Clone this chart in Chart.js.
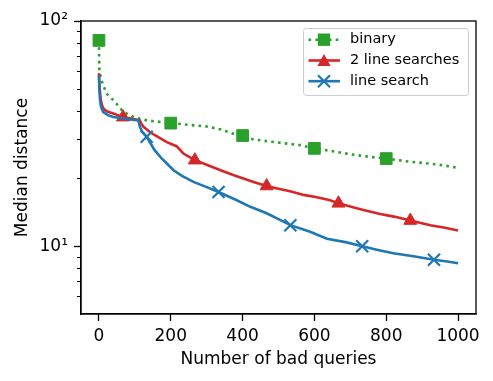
<!DOCTYPE html>
<html><head><meta charset="utf-8">
<script src="https://cdn.jsdelivr.net/npm/chart.js@4/dist/chart.umd.min.js"></script>
<style>html,body{margin:0;padding:0;background:#fff}#wrap{width:493px;height:381px}</style>
</head><body><div id="wrap"><canvas id="c" width="493" height="381"></canvas></div>
<script>
const seriesNames = ['binary', '2 line searches', 'line search'];

const binaryX = [0, 1, 7, 21, 45, 68, 100, 133, 200, 250, 300, 340, 374, 400, 430, 495, 560, 600, 650, 700, 756, 800, 867, 941, 1000];
const binaryY = [82, 60, 54.5, 47.6, 43.7, 39.4, 37.3, 36.2, 35.2, 34.6, 34.0, 33.0, 31.6, 31.0, 29.8, 28.9, 28.1, 27.2, 26.4, 25.6, 24.9, 24.5, 23.7, 23.1, 22.3];
const binaryMarkX = [0, 200, 400, 600, 800];

const redX = [0, 2, 5, 8, 12, 17, 25, 40, 67, 86, 100, 114, 118, 124, 140, 156, 189, 216, 235, 267, 300, 337, 370, 402, 435, 467, 500, 535, 570, 607, 644, 667, 700, 728, 783, 825, 867, 923, 960, 1000];
const redY = [58.7, 50, 45, 42.5, 41, 40.2, 39.5, 38.8, 37.4, 37.0, 36.6, 36.2, 35.0, 33.9, 32.3, 31.1, 29.0, 27.8, 25.8, 24.1, 23.0, 21.8, 20.8, 20.0, 19.2, 18.5, 18.0, 17.5, 16.9, 16.5, 16.0, 15.5, 15.0, 14.6, 13.9, 13.5, 13.0, 12.4, 12.1, 11.75];
const redMarkX = [67, 267, 467, 667, 867];

const blueX = [0, 1, 3, 6, 12, 25, 40, 86, 110, 114, 120, 133, 155, 172, 189, 207, 230, 263, 300, 333, 384, 420, 467, 500, 533, 588, 635, 690, 733, 780, 820, 880, 933, 970, 1000];
const blueY = [57.2, 50, 44.5, 41.5, 39.4, 38.2, 37.5, 36.5, 36.2, 33.9, 32.3, 30.6, 26.7, 24.8, 23.3, 21.8, 20.6, 19.3, 18.3, 17.4, 16.0, 15.0, 14.0, 13.2, 12.4, 11.6, 10.8, 10.4, 10.0, 9.6, 9.3, 9.0, 8.7, 8.55, 8.4];
const blueMarkX = [133, 333, 533, 733, 933];

const xTicks = [0, 200, 400, 600, 800, 1000];
const yTicks = [10, 100];
const yTickLabels = ['10\u00B9', '10\u00B2'];
const yMinorTicks = [6, 7, 8, 9, 20, 30, 40, 50, 60, 70, 80, 90];

const GREEN = '#2ca02c', RED = '#d62728', BLUE = '#1f77b4';
const LW = 2.6;
Chart.defaults.font.family = "'DejaVu Sans', sans-serif";
Chart.defaults.color = '#000';

function pts(xs, ys) { return xs.map((x, i) => ({x: x, y: ys[i]})); }
function radiusFor(marks, r) {
  return ctx => (ctx.raw && marks.includes(ctx.raw.x)) ? r : 0;
}

function drawMarker(ctx, style, x, y, color) {
  ctx.save();
  ctx.fillStyle = color; ctx.strokeStyle = color; ctx.setLineDash([]);
  if (style === 'rect') {
    ctx.fillRect(x - 6.2, y - 6.2, 12.4, 12.4);
  } else if (style === 'triangle') {
    ctx.beginPath(); ctx.moveTo(x, y - 6.5); ctx.lineTo(x + 6.6, y + 5.5); ctx.lineTo(x - 6.6, y + 5.5); ctx.closePath(); ctx.fill();
  } else {
    ctx.lineWidth = 2.2; ctx.beginPath();
    ctx.moveTo(x - 6, y - 6); ctx.lineTo(x + 6, y + 6);
    ctx.moveTo(x - 6, y + 6); ctx.lineTo(x + 6, y - 6); ctx.stroke();
  }
  ctx.restore();
}

const extras = {
  id: 'extras',
  afterDatasetsDraw(chart) {
    const ctx = chart.ctx, a = chart.chartArea, ys = chart.scales.y;
    ctx.save();
    ctx.strokeStyle = '#000'; ctx.lineWidth = 1;
    yMinorTicks.forEach(v => {
      const py = Math.round(ys.getPixelForValue(v)) + 0.5;
      ctx.beginPath(); ctx.moveTo(a.left - 4, py); ctx.lineTo(a.left, py); ctx.stroke();
    });
    ctx.lineWidth = 1.3;
    ctx.strokeRect(a.left, a.top, a.right - a.left, a.bottom - a.top);
    const bx = 303.5, by = 28.5, bw = 165, bh = 67, rr = 3;
    ctx.beginPath();
    ctx.moveTo(bx + rr, by); ctx.lineTo(bx + bw - rr, by); ctx.arcTo(bx + bw, by, bx + bw, by + rr, rr);
    ctx.lineTo(bx + bw, by + bh - rr); ctx.arcTo(bx + bw, by + bh, bx + bw - rr, by + bh, rr);
    ctx.lineTo(bx + rr, by + bh); ctx.arcTo(bx, by + bh, bx, by + bh - rr, rr);
    ctx.lineTo(bx, by + rr); ctx.arcTo(bx, by, bx + rr, by, rr); ctx.closePath();
    ctx.fillStyle = 'rgba(255,255,255,0.8)'; ctx.fill();
    ctx.strokeStyle = '#cccccc'; ctx.lineWidth = 1; ctx.stroke();
    const items = [
      {name: seriesNames[0], color: GREEN, dash: [2.6, 4.2], style: 'rect'},
      {name: seriesNames[1], color: RED, dash: [], style: 'triangle'},
      {name: seriesNames[2], color: BLUE, dash: [], style: 'cross'}
    ];
    const rows = [39.7, 60.5, 81.2];
    items.forEach((it, i) => {
      const y = rows[i];
      ctx.save();
      ctx.strokeStyle = it.color; ctx.lineWidth = LW; ctx.setLineDash(it.dash);
      ctx.beginPath(); ctx.moveTo(308.5, y); ctx.lineTo(340, y); ctx.stroke();
      ctx.restore();
      drawMarker(ctx, it.style, 324, y, it.color);
      ctx.fillStyle = '#000'; ctx.font = "14.5px 'DejaVu Sans', sans-serif";
      ctx.textBaseline = 'middle'; ctx.textAlign = 'left';
      ctx.fillText(it.name, 350, y);
    });
    ctx.restore();
  }
};

new Chart(document.getElementById('c'), {
  type: 'line',
  data: {
    datasets: [
      {label: seriesNames[2], data: pts(blueX, blueY), borderColor: BLUE, backgroundColor: BLUE, borderWidth: LW,
       pointStyle: 'crossRot', pointRadius: radiusFor(blueMarkX, 8.5), pointHoverRadius: radiusFor(blueMarkX, 8.5),
       pointBorderColor: BLUE, pointBorderWidth: 2.2, order: 0, tension: 0},
      {label: seriesNames[1], data: pts(redX, redY), borderColor: RED, backgroundColor: RED, borderWidth: LW,
       pointStyle: 'triangle', pointRadius: radiusFor(redMarkX, 7.5), pointHoverRadius: radiusFor(redMarkX, 7.5),
       pointBackgroundColor: RED, pointBorderColor: RED, pointBorderWidth: 1, order: 1, tension: 0},
      {label: seriesNames[0], data: pts(binaryX, binaryY), borderColor: GREEN, backgroundColor: GREEN, borderWidth: LW,
       borderDash: [2.6, 4.2], borderCapStyle: 'butt',
       pointStyle: 'rect', pointRadius: radiusFor(binaryMarkX, 8.3), pointHoverRadius: radiusFor(binaryMarkX, 8.3),
       pointBackgroundColor: GREEN, pointBorderColor: GREEN, pointBorderWidth: 1, order: 2, tension: 0}
    ]
  },
  options: {
    responsive: false, animation: false, events: [],
    layout: {padding: {left: 0, right: 17, top: 21, bottom: 0}},
    plugins: {legend: {display: false}, tooltip: {enabled: false}},
    scales: {
      x: {
        type: 'linear', min: -50, max: 1050,
        afterBuildTicks: s => { s.ticks = xTicks.map(v => ({value: v})); },
        afterFit: s => { s.height = 67; },
        ticks: {font: {size: 17}, color: '#000', padding: 5, maxRotation: 0, callback: v => String(v)},
        grid: {drawOnChartArea: false, drawTicks: true, tickLength: 7, tickColor: '#000', tickWidth: 1.3},
        border: {display: true, color: '#000', width: 1.3},
        title: {display: true, text: 'Number of bad queries', font: {size: 17}, color: '#000', padding: {top: 0, bottom: 11}}
      },
      y: {
        type: 'logarithmic', min: 5, max: 100,
        afterBuildTicks: s => { s.ticks = yTicks.map(v => ({value: v, major: true})); },
        afterFit: s => { s.width = 81; },
        ticks: {font: {size: 17}, color: '#000', padding: 6,
                callback: v => { const i = yTicks.indexOf(v); return i >= 0 ? yTickLabels[i] : ''; }},
        grid: {drawOnChartArea: false, drawTicks: true, tickLength: 7, tickColor: '#000', tickWidth: 1.3},
        border: {display: true, color: '#000', width: 1.3},
        title: {display: true, text: 'Median distance', font: {size: 17}, color: '#000', padding: {top: 12, bottom: 0}}
      }
    }
  },
  plugins: [extras]
});
</script>
</body></html>
